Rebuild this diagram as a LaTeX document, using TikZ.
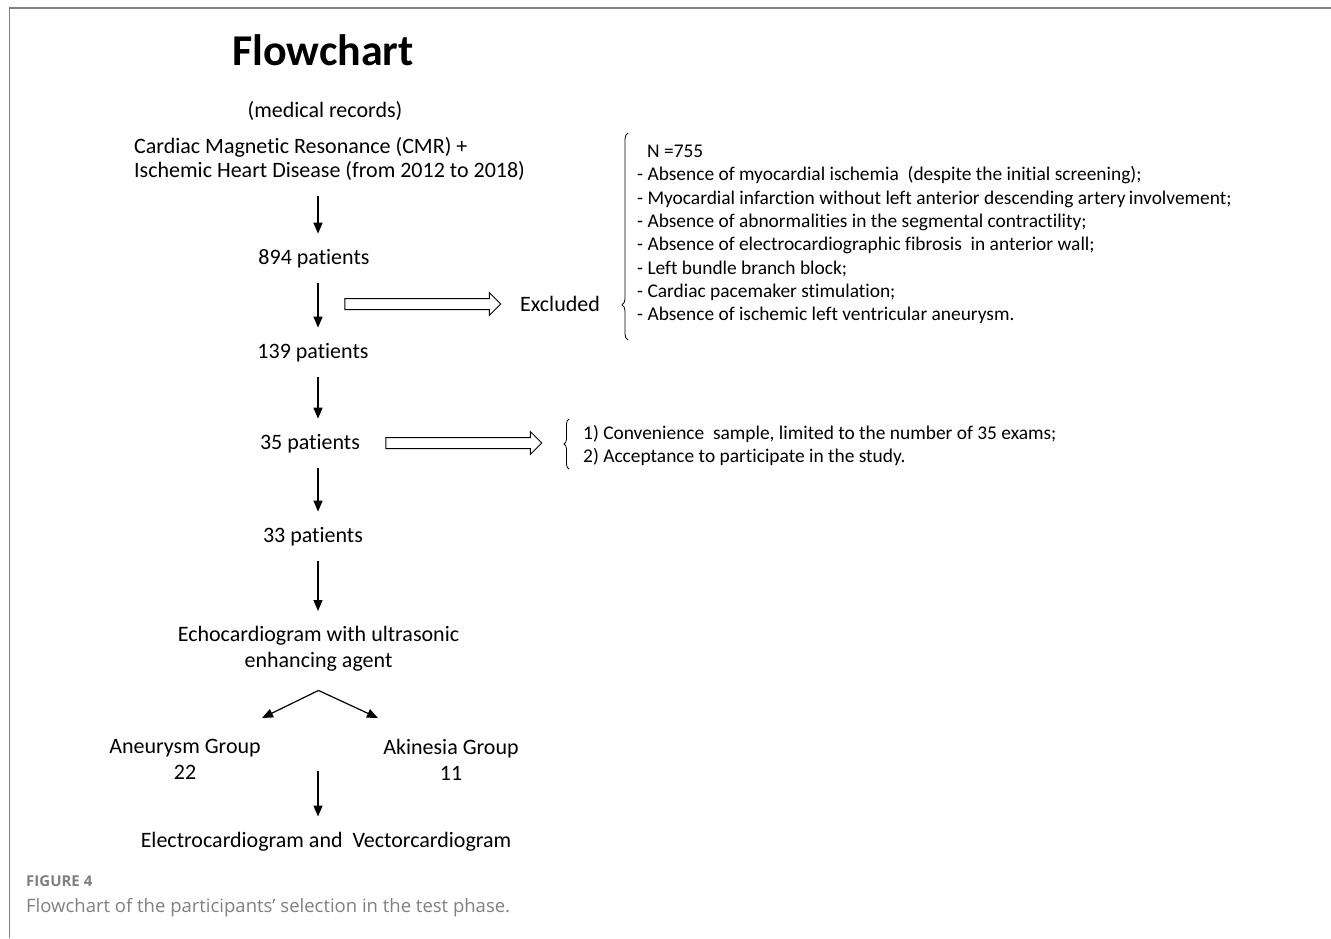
\documentclass[tikz,border=0pt]{standalone}
\usepackage{fontspec}
\setmainfont{Carlito}[Ligatures=NoCommon]
\newfontfamily\capfont{Open Sans}
\usetikzlibrary{arrows.meta,positioning,calc,shapes.arrows,decorations.pathreplacing}

\begin{document}
\begin{tikzpicture}[x=1pt,y=-1pt]
  \tikzstyle{txt}=[inner sep=0pt, anchor=base, font=\fontsize{22}{26}\selectfont]
  \tikzstyle{lst}=[inner sep=0pt, align=left, anchor=north west, font=\fontsize{19.4}{23.3}\selectfont]
  \tikzstyle{arr}=[-{Triangle[length=11pt,width=9pt]}, line width=1.2pt, shorten <=15pt, shorten >=15pt]
  \tikzstyle{hollow}=[single arrow, draw, line width=1pt, minimum height=156pt, inner xsep=0pt, inner ysep=5pt, single arrow head extend=6pt]
  \tikzstyle{brc}=[decorate, line width=0.8pt]

  \useasboundingbox (0,0) rectangle (1331,938);

  % marco de la figura
  \draw[gray, line width=2pt] (9,8) -- (1331,8);
  \draw[gray, line width=1pt] (9,8) -- (9,938);

  % columna principal
  \coordinate (spine) at (318,0);
  \node[inner sep=0pt, font=\fontsize{44}{50}\selectfont\bfseries] (title) at (323,50) {Flowchart};
  \node[txt] (records) at (325,117) {(medical records)};
  \node[txt, anchor=north west, align=left, font=\fontsize{22}{24}\selectfont] (cmr) at (134,137) {Cardiac Magnetic Resonance (CMR) +\\Ischemic Heart Disease (from 2012 to 2018)};
  \node[txt] (p894) at (314,264) {894 patients};
  \node[txt] (p139) at (313,358) {139 patients};
  \node[txt] (p35) at (310,449) {35 patients};
  \node[txt] (p33) at (313,542) {33 patients};
  \node[txt, anchor=north, align=center] (echo) at (318.5,626) {Echocardiogram with ultrasonic\\enhancing agent};
  \node[txt, anchor=north, align=center] (aneu) at (185,739) {Aneurysm Group\\22};
  \node[txt, anchor=north, align=center] (akin) at (451,739) {Akinesia Group\\11};
  \node[txt] (ecg) at (326,847) {Electrocardiogram and\ \ Vectorcardiogram};

  % flechas verticales
  \draw[arr] (cmr.south -| spine) -- (p894.north -| spine);
  \draw[arr] (p894.south -| spine) -- (p139.north -| spine);
  \draw[arr] (p139.south -| spine) -- (p35.north -| spine);
  \draw[arr] (p35.south -| spine) -- (p33.north -| spine);
  \draw[arr] (p33.south -| spine) -- (echo.north -| spine);

  % bifurcacion en dos grupos
  \coordinate[below=19pt of echo.south] (apex);
  \coordinate (brL) at (262,718);
  \coordinate (brR) at (378,718);
  \draw[arr, shorten <=0pt, shorten >=0pt] (apex) -- (brL);
  \draw[arr, shorten <=0pt, shorten >=0pt] (apex) -- (brR);
  \coordinate (join) at (318,771);
  \draw[arr, shorten <=0pt] (join) -- (ecg.north -| join);

  % excluidos
  \node[hollow] (hx1) at (420,304) {};
  \node[txt] (excl) at (560,311) {Excluded};
  \draw[brc, decoration={brace, amplitude=6pt, aspect=0.17}] (628,340) -- (628,133);
  \node[lst] (crit) at (637,145) {\hspace*{10pt}N =755\\
    - Absence of myocardial ischemia\ \ (despite the initial screening);\\
    - Myocardial infarction without left anterior descending artery\,involvement;\\
    - Absence of abnormalities in the segmental contractility;\\
    - Absence of electrocardiographic fibrosis\ \ in anterior wall;\\
    - Left bundle branch block;\\
    - Cardiac pacemaker stimulation;\\
    - Absence of ischemic left ventricular aneurysm.};

  \node[hollow] (hx2) at (461,443) {};
  \draw[brc, decoration={brace, amplitude=5pt, aspect=0.5}] (569,469) -- (569,419);
  \node[lst] (conv) at (583,425) {1) Convenience\ \ sample, limited to the number of 35 exams;\\
    2) Acceptance to participate in the study.};

  % pie de figura
  \node[inner sep=0pt, anchor=base west, text=gray, font=\capfont\fontsize{15}{17}\selectfont\bfseries] (fig) at (26,886) {FIGURE 4};
  \node[inner sep=0pt, anchor=base west, text=gray, font=\capfont\fontsize{18.5}{20}\selectfont] (cap) at (26,912) {Flowchart of the participants’ selection in the test phase.};
\end{tikzpicture}
\end{document}
